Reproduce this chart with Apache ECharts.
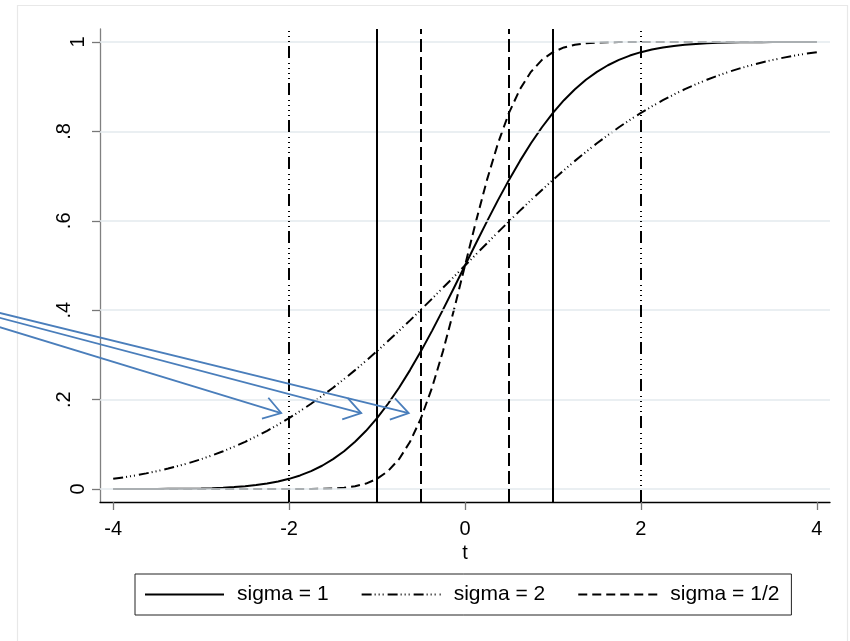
<!DOCTYPE html>
<html>
<head>
<meta charset="utf-8">
<script src="https://cdn.jsdelivr.net/npm/echarts@6/dist/echarts.min.js"></script>
<style>
  html, body { margin: 0; padding: 0; background: #fff; }
  #chart { width: 850px; height: 641px; }
</style>
</head>
<body>
<div id="chart"></div>
<script>
// ---- data ----
const tValues = [-4, -3.875, -3.75, -3.625, -3.5, -3.375, -3.25, -3.125, -3, -2.875, -2.75, -2.625, -2.5, -2.375, -2.25, -2.125,
  -2, -1.875, -1.75, -1.625, -1.5, -1.375, -1.25, -1.125, -1, -0.875, -0.75, -0.625, -0.5, -0.375, -0.25, -0.125,
  0, 0.125, 0.25, 0.375, 0.5, 0.625, 0.75, 0.875, 1, 1.125, 1.25, 1.375, 1.5, 1.625, 1.75, 1.875,
  2, 2.125, 2.25, 2.375, 2.5, 2.625, 2.75, 2.875, 3, 3.125, 3.25, 3.375, 3.5, 3.625, 3.75, 3.875, 4];
const sigma1 = [0.0000, 0.0001, 0.0001, 0.0001, 0.0002, 0.0004, 0.0006, 0.0009, 0.0013, 0.0020, 0.0030, 0.0043, 0.0062, 0.0088, 0.0122, 0.0168,
  0.0228, 0.0304, 0.0401, 0.0521, 0.0668, 0.0846, 0.1056, 0.1303, 0.1587, 0.1908, 0.2266, 0.2660, 0.3085, 0.3538, 0.4013, 0.4503,
  0.5000, 0.5497, 0.5987, 0.6462, 0.6915, 0.7340, 0.7734, 0.8092, 0.8413, 0.8697, 0.8944, 0.9154, 0.9332, 0.9479, 0.9599, 0.9696,
  0.9772, 0.9832, 0.9878, 0.9912, 0.9938, 0.9957, 0.9970, 0.9980, 0.9987, 0.9991, 0.9994, 0.9996, 0.9998, 0.9999, 0.9999, 0.9999, 1.0000];
const sigma2 = [0.0228, 0.0263, 0.0304, 0.0350, 0.0401, 0.0458, 0.0521, 0.0591, 0.0668, 0.0754, 0.0846, 0.0947, 0.1056, 0.1175, 0.1303, 0.1440,
  0.1587, 0.1743, 0.1908, 0.2083, 0.2266, 0.2459, 0.2660, 0.2869, 0.3085, 0.3309, 0.3538, 0.3773, 0.4013, 0.4256, 0.4503, 0.4751,
  0.5000, 0.5249, 0.5497, 0.5744, 0.5987, 0.6227, 0.6462, 0.6691, 0.6915, 0.7131, 0.7340, 0.7541, 0.7734, 0.7917, 0.8092, 0.8257,
  0.8413, 0.8560, 0.8697, 0.8825, 0.8944, 0.9053, 0.9154, 0.9246, 0.9332, 0.9409, 0.9479, 0.9542, 0.9599, 0.9650, 0.9696, 0.9737, 0.9772];
const sigmaHalf = [0, 0, 0, 0, 0, 0, 0, 0, 0, 0, 0, 0, 0, 0, 0, 0,
  0.0000, 0.0001, 0.0002, 0.0006, 0.0013, 0.0030, 0.0062, 0.0122, 0.0228, 0.0401, 0.0668, 0.1056, 0.1587, 0.2266, 0.3085, 0.4013,
  0.5000, 0.5987, 0.6915, 0.7734, 0.8413, 0.8944, 0.9332, 0.9599, 0.9772, 0.9878, 0.9938, 0.9970, 0.9987, 0.9994, 0.9998, 0.9999,
  1.0000, 1, 1, 1, 1, 1, 1, 1, 1, 1, 1, 1, 1, 1, 1, 1, 1];
const seriesNames = ['sigma = 1', 'sigma = 2', 'sigma = 1/2'];
const vLinesSigma1 = [-1, 1];
const vLinesSigma2 = [-2, 2];
const vLinesSigmaHalf = [-0.5, 0.5];
const xTicks = [-4, -2, 0, 2, 4];
const yTicks = [0, 0.2, 0.4, 0.6, 0.8, 1];
const yTickLabels = ['0', '.2', '.4', '.6', '.8', '1'];
const xTitle = 't';
// annotation arrows (data coordinates): from -> to
const arrowFromX = [-5.29, -5.29, -5.29];
const arrowFromY = [0.394, 0.383, 0.362];
const arrowToX = [-0.64, -1.18, -2.09];
const arrowToY = [0.17, 0.17, 0.17];

// ---- chart ----
const FONT = "'Liberation Sans', Arial, Helvetica, sans-serif";
const chart = echarts.init(document.getElementById('chart'), null, { renderer: 'canvas' });

function pairs(xs, ys) { return xs.map((x, i) => [x, ys[i]]); }
function vMark(vals, lineStyle) {
  return {
    silent: true,
    symbol: ['none', 'none'],
    label: { show: false },
    emphasis: { disabled: true },
    lineStyle: lineStyle,
    data: vals.map(v => ({ xAxis: v }))
  };
}

const styleSolid = { color: '#000', width: 2, type: 'solid' };
const styleDashDot = { color: '#000', width: 2, type: [10, 3, 1, 3, 1, 3, 1, 4] };
const styleDash = { color: '#000', width: 2, type: [9, 5] };
const vStyleSolid = { color: '#000', width: 2, type: 'solid' };
const vStyleDashDot = { color: '#000', width: 2, type: [12, 4, 1, 4, 1, 4, 1, 4, 1, 5] };
const vStyleDash = { color: '#000', width: 2, type: [13, 5] };

function curve(name, ys, lineStyle, vals, vStyle) {
  return {
    name: name, type: 'line', data: pairs(tValues, ys),
    symbol: 'none', showSymbol: false, smooth: false,
    lineStyle: lineStyle, itemStyle: { color: '#000', opacity: 0 }, z: 3,
    emphasis: { disabled: true },
    markLine: vMark(vals, vStyle)
  };
}

const option = {
  animation: false,
  backgroundColor: '#fff',
  textStyle: { fontFamily: FONT },
  grid: { left: 100, right: 20, top: 29, bottom: 139, containLabel: false },
  xAxis: {
    type: 'value',
    min: -4.15, max: 4.15,
    name: xTitle,
    nameLocation: 'middle',
    nameGap: 36,
    nameTextStyle: { fontSize: 20, color: '#000', fontFamily: FONT },
    axisLine: { show: true, onZero: false, lineStyle: { color: '#000', width: 1.3 } },
    axisTick: { show: true, customValues: xTicks, length: 8, lineStyle: { color: '#777', width: 1.3 } },
    axisLabel: { show: true, customValues: xTicks, fontSize: 20, color: '#000', margin: 17, fontFamily: FONT,
      formatter: v => String(v) },
    splitLine: { show: false }
  },
  yAxis: {
    type: 'value',
    min: -0.029, max: 1.029,
    axisLine: { show: true, onZero: false, lineStyle: { color: '#808080', width: 1.3 } },
    axisTick: { show: true, customValues: yTicks, length: 8, lineStyle: { color: '#777', width: 1.3 } },
    axisLabel: {
      show: true, customValues: yTicks, rotate: 90, margin: 12, fontSize: 20, color: '#000', fontFamily: FONT,
      formatter: v => {
        const i = yTicks.findIndex(t => Math.abs(t - v) < 1e-9);
        const s = i >= 0 ? yTickLabels[i] : '';
        return s.charAt(0) === '.' ? '{d|' + s + '}' : '{n|' + s + '}';
      },
      rich: {
        d: { fontSize: 20, color: '#000', fontFamily: FONT, padding: [0, 0, 14, 0] },
        n: { fontSize: 20, color: '#000', fontFamily: FONT }
      }
    },
    splitLine: { show: false }
  },
  legend: {
    data: seriesNames,
    left: 135, top: 574,
    orient: 'horizontal',
    borderColor: '#222', borderWidth: 1, borderRadius: 0,
    padding: [10, 12, 10, 9],
    itemWidth: 79, itemHeight: 14, itemGap: 32,
    itemStyle: { opacity: 0 },
    textStyle: { fontSize: 21, color: '#000', fontFamily: FONT, padding: [0, 0, 0, 8] },
    selectedMode: false
  },
  series: [
    {
      name: 'grid', type: 'line', data: [], z: 1, silent: true,
      markLine: {
        silent: true, symbol: ['none', 'none'], label: { show: false }, emphasis: { disabled: true },
        lineStyle: { color: '#e3eaee', width: 1.5, type: 'solid' },
        data: yTicks.map(v => ({ yAxis: v }))
      }
    },
    curve(seriesNames[0], sigma1, styleSolid, vLinesSigma1, vStyleSolid),
    curve(seriesNames[1], sigma2, styleDashDot, vLinesSigma2, vStyleDashDot),
    curve(seriesNames[2], sigmaHalf, styleDash, vLinesSigmaHalf, vStyleDash)
  ]
};
chart.setOption(option);

// ---- annotations: outer frame + blue arrows ----
const ARROW_COLOR = '#4a7ebb';
const graphics = [{
  type: 'rect', silent: true, z: 0,
  shape: { x: 17.5, y: 5.5, width: 830, height: 700 },
  style: { fill: 'none', stroke: '#e8e8e8', lineWidth: 1.2 }
}];
for (let i = 0; i < arrowFromX.length; i++) {
  const p0 = chart.convertToPixel({ gridIndex: 0 }, [arrowFromX[i], arrowFromY[i]]);
  const p1 = chart.convertToPixel({ gridIndex: 0 }, [arrowToX[i], arrowToY[i]]);
  const ang = Math.atan2(p1[1] - p0[1], p1[0] - p0[0]);
  const L = 20, spread = 33 * Math.PI / 180;
  const a1 = [p1[0] - L * Math.cos(ang - spread), p1[1] - L * Math.sin(ang - spread)];
  const a2 = [p1[0] - L * Math.cos(ang + spread), p1[1] - L * Math.sin(ang + spread)];
  graphics.push({
    type: 'polyline', silent: true, z: 10,
    shape: { points: [p0, p1] },
    style: { stroke: ARROW_COLOR, lineWidth: 1.8, fill: 'none' }
  });
  graphics.push({
    type: 'polyline', silent: true, z: 10,
    shape: { points: [a1, p1, a2] },
    style: { stroke: ARROW_COLOR, lineWidth: 1.8, fill: 'none', lineJoin: 'miter' }
  });
}
chart.setOption({ graphic: graphics });
</script>
</body>
</html>
